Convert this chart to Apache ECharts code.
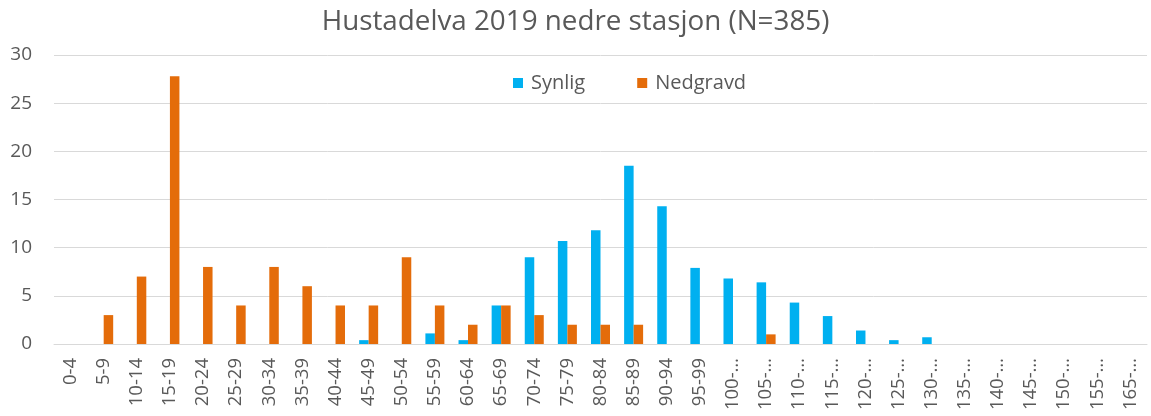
<!DOCTYPE html>
<html><head><meta charset="utf-8">
<script src="https://cdn.jsdelivr.net/npm/echarts@6/dist/echarts.min.js"></script>
<style>html,body{margin:0;padding:0;background:#fff}#c{width:1151px;height:416px}</style>
</head><body><div id="c"></div>
<script>
const categories = ["0-4","5-9","10-14","15-19","20-24","25-29","30-34","35-39","40-44","45-49","50-54","55-59","60-64","65-69","70-74","75-79","80-84","85-89","90-94","95-99","100-…","105-…","110-…","115-…","120-…","125-…","130-…","135-…","140-…","145-…","150-…","155-…","165-…"];
const synlig = [0,0,0,0,0,0,0,0,0,0.4,0,1.1,0.4,4.0,9.0,10.7,11.8,18.5,14.3,7.9,6.8,6.4,4.3,2.9,1.4,0.4,0.7,0,0,0,0,0,0];
const nedgravd = [0,3,7,27.8,8,4,8,6,4,4,9,4,2,4,3,2,2,2,0,0,0,1,0,0,0,0,0,0,0,0,0,0,0];
const yTicks = {min:0, max:30, interval:5};
const FONT = "'Open Sans', 'Liberation Sans', sans-serif";
const chart = echarts.init(document.getElementById('c'), null, {renderer:'canvas'});
chart.setOption({
  animation:false,
  title:{text:"Hustadelva 2019 nedre stasjon (N=385)", left:'center', top:3,
    textStyle:{fontFamily:FONT, fontSize:27.8, fontWeight:'normal', color:'#595959'}},
  legend:{top:68, left:508, itemWidth:10, itemHeight:10, itemGap:52, icon:'rect',
    textStyle:{fontFamily:FONT, fontSize:20, color:'#595959', padding:[0,0,0,3]}},
  grid:{left:54, right:4, top:55, bottom:72, containLabel:false},
  xAxis:{type:'category', data:categories,
    axisLine:{lineStyle:{color:'#D9D9D9', width:1}}, axisTick:{show:false},
    axisLabel:{rotate:90, interval:0, fontFamily:FONT, fontSize:18.5, color:'#595959', margin:14}},
  yAxis:{type:'value', min:yTicks.min, max:yTicks.max, interval:yTicks.interval,
    axisLine:{show:false}, axisTick:{show:false},
    splitLine:{lineStyle:{color:'#D9D9D9', width:1}},
    axisLabel:{fontFamily:FONT, fontSize:19, color:'#595959', margin:22}},
  series:[
    {name:'Synlig', type:'bar', data:synlig, barWidth:9.5, barGap:'0%', itemStyle:{color:'#00B0F0'}},
    {name:'Nedgravd', type:'bar', data:nedgravd, barWidth:9.5, barGap:'0%', itemStyle:{color:'#E46C0A'}}
  ]
});
</script></body></html>
